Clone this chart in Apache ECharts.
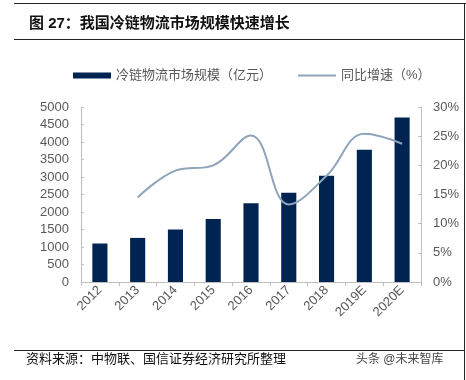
<!DOCTYPE html>
<html><head><meta charset="utf-8">
<script src="https://cdn.jsdelivr.net/npm/echarts@6/dist/echarts.min.js"></script>
<style>html,body{margin:0;padding:0;background:#fff}#c{width:466px;height:380px}</style>
</head><body><div id="c"></div>
<script>
const categories = ['2012','2013','2014','2015','2016','2017','2018','2019E','2020E'];
const marketSize = [1100, 1260, 1500, 1800, 2250, 2550, 3035, 3780, 4700];
const growthRate = ['-', 14.5, 19.1, 20.0, 25.1, 13.3, 18.2, 25.4, 23.7];
const leftTicks = [0, 5000, 500];
const rightTicks = [0, 30, 5];
const seriesNames = ['冷链物流市场规模（亿元）', '同比增速（%）'];

const FONT = '"Liberation Sans", "Noto Sans CJK SC", sans-serif';
const chart = echarts.init(document.getElementById('c'), null, {renderer: 'canvas'});
chart.setOption({
  backgroundColor: '#fff',
  animation: false,
  textStyle: {fontFamily: FONT},
  title: {
    text: '图 27：我国冷链物流市场规模快速增长',
    left: 24, top: 11,
    textStyle: {fontSize: 15, fontWeight: 'bold', color: '#111', fontFamily: FONT}
  },
  graphic: [
    {type: 'line', shape: {x1: 14, y1: 3.5, x2: 466, y2: 3.5}, style: {stroke: '#222', lineWidth: 1}},
    {type: 'line', shape: {x1: 14, y1: 39.5, x2: 464, y2: 39.5}, style: {stroke: '#222', lineWidth: 1}},
    {type: 'line', shape: {x1: 14, y1: 350.5, x2: 464, y2: 350.5}, style: {stroke: '#222', lineWidth: 1}},
    {type: 'line', shape: {x1: 464.5, y1: 3, x2: 464.5, y2: 380}, style: {stroke: '#222', lineWidth: 1}},
    {type: 'text', left: 26, top: 353, style: {text: '资料来源：中物联、国信证券经济研究所整理', fill: '#111', font: '13px ' + FONT}},
    {type: 'text', left: 356, top: 354, style: {text: '头条 @未来智库', fill: '#444', font: '12px ' + FONT}}
  ],
  legend: {
    top: 64, left: 68,
    itemWidth: 38, itemHeight: 6, itemGap: 26,
    textStyle: {fontSize: 13, color: '#595959', fontFamily: FONT},
    data: [
      {name: seriesNames[0], icon: 'rect'},
      {name: seriesNames[1], icon: 'path://M0,0H38V2H0Z', itemStyle: {color: '#8FA4BA'}, lineStyle: {opacity: 0}}
    ]
  },
  grid: {left: 81, right: 45, top: 107, bottom: 98, containLabel: false},
  xAxis: {
    type: 'category',
    data: categories,
    axisLine: {lineStyle: {color: '#BFBFBF'}},
    axisTick: {show: true, alignWithLabel: false, length: 4, lineStyle: {color: '#BFBFBF'}},
    axisLabel: {rotate: 45, fontSize: 13, color: '#595959', margin: 6, interval: 0}
  },
  yAxis: [
    {
      type: 'value', min: leftTicks[0], max: leftTicks[1], interval: leftTicks[2],
      splitLine: {show: false},
      axisLine: {show: true, lineStyle: {color: '#BFBFBF'}},
      axisTick: {show: true, inside: true, length: 3, lineStyle: {color: '#BFBFBF'}},
      axisLabel: {fontSize: 13, color: '#595959', margin: 12, formatter: v => String(v)}
    },
    {
      type: 'value', min: rightTicks[0], max: rightTicks[1], interval: rightTicks[2],
      position: 'right',
      splitLine: {show: false},
      axisLine: {show: true, lineStyle: {color: '#BFBFBF'}},
      axisTick: {show: true, inside: true, length: 3, lineStyle: {color: '#BFBFBF'}},
      axisLabel: {fontSize: 13, color: '#595959', margin: 12, formatter: v => v + '%'}
    }
  ],
  series: [
    {
      name: seriesNames[0], type: 'bar', data: marketSize,
      barWidth: '40%',
      itemStyle: {color: '#002451'}
    },
    {
      name: seriesNames[1], type: 'line', yAxisIndex: 1, data: growthRate,
      smooth: 0.4, symbol: 'none', connectNulls: false,
      lineStyle: {color: '#8FA4BA', width: 2},
      itemStyle: {color: '#8FA4BA'}
    }
  ]
});
</script></body></html>
